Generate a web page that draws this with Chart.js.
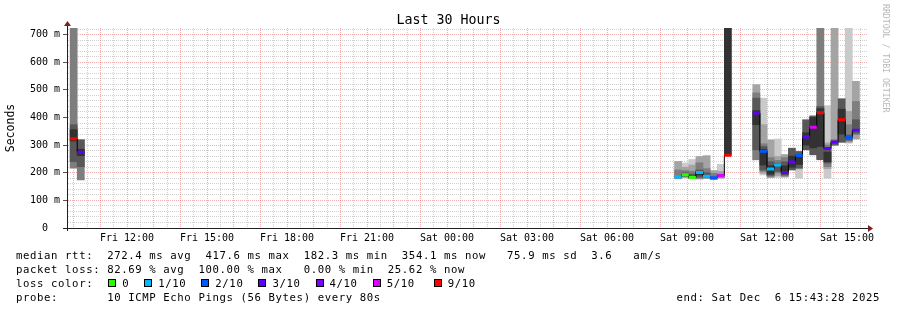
<!DOCTYPE html>
<html><head><meta charset="utf-8">
<script src="https://cdn.jsdelivr.net/npm/chart.js@4.4.1/dist/chart.umd.min.js"></script>
<style>
html,body{margin:0;padding:0;background:#fff;}
#wrap{position:relative;width:897px;height:310px;overflow:hidden;background:#fff;font-family:'DejaVu Sans Mono',monospace;color:#000;}
#c{position:absolute;left:0;top:0;}
#title{position:absolute;left:0;width:897px;top:12px;text-align:center;font-size:13.3px;line-height:16px;white-space:pre;}
#mark{position:absolute;left:881px;top:4px;writing-mode:vertical-rl;font-size:8.2px;line-height:10px;color:#b8b8b8;white-space:pre;}
.leg{position:absolute;left:16px;font-size:10.67px;letter-spacing:0.6px;line-height:14px;white-space:pre;}
.sw{display:inline-block;width:6px;height:6px;border:1px solid #000;margin:0 6px 0 1px;vertical-align:baseline;}
#end{left:auto;right:17px;}
</style></head>
<body>
<div id="wrap">
<canvas id="c" width="897" height="310"></canvas>
<div id="title">Last 30 Hours</div>
<div id="mark">RRDTOOL / TOBI OETIKER</div>
<div class="leg" style="top:248.5px">median rtt:  272.4 ms avg  417.6 ms max  182.3 ms min  354.1 ms now   75.9 ms sd  3.6   am/s</div>
<div class="leg" style="top:262.8px">packet loss: 82.69 % avg  100.00 % max   0.00 % min  25.62 % now</div>
<div class="leg" id="losslegend" style="top:276.9px"></div>
<div class="leg" style="top:291.1px">probe:       10 ICMP Echo Pings (56 Bytes) every 80s</div>
<div class="leg" id="end" style="top:291.1px">end: Sat Dec  6 15:43:28 2025</div>
</div>
<script>
// ---- data (RTT values in milliseconds) ----
const axisStart = 'Fri 09:45';
const axisEnd = 'Sat 15:45';
const bucketMinutes = 16;
const xTickLabels = ['Fri 12:00','Fri 15:00','Fri 18:00','Fri 21:00','Sat 00:00','Sat 03:00','Sat 06:00','Sat 09:00','Sat 12:00','Sat 15:00'];
const bucketStarts = ['Fri 09:52','Fri 10:08','Sat 08:32','Sat 08:48','Sat 09:04','Sat 09:20','Sat 09:36','Sat 09:52','Sat 10:08','Sat 10:24',
  'Sat 11:28','Sat 11:44','Sat 12:00','Sat 12:16','Sat 12:32','Sat 12:48','Sat 13:04','Sat 13:20','Sat 13:36','Sat 13:52',
  'Sat 14:08','Sat 14:24','Sat 14:40','Sat 14:56','Sat 15:12'];
// smoke bands, outermost (lightest) to innermost (darkest): [low, high]
const smoke1 = [null,null,null,[180,235],[177,248],null,null,null,[178,230],null,
  null,[192,470],null,[183,322],null,null,[180,277],null,null,null,
  [180,443],null,null,[307,740],null];
const smoke2 = [null,null,[178,241],[183,220],[179,228],[177,259],[179,262],[175,208],[181,205],null,
  [247,519],[198,374],[182,319],[190,259],[184,266],null,null,null,null,null,
  [215,308],[298,740],null,[310,422],[322,531]];
const smoke3 = [[217,740],[174,319],[180,210],[186,208],[180,205],[180,236],[181,215],[177,198],[183,195],null,
  [247,489],[205,305],[186,255],[200,245],[188,255],null,null,null,null,[250,740],
  [222,300],[300,320],null,[315,374],[338,458]];
const smoke4 = [[240,374],[222,319],null,[188,200],[181,195],[184,210],[183,200],null,null,null,
  [283,470],[210,295],[190,240],[205,235],[192,240],[210,289],[216,277],[283,392],[265,406],[247,440],
  [235,290],[302,315],[310,468],[318,337],[343,392]];
const smoke5 = [[315,356],[262,285],null,null,null,[192,205],null,null,null,[263,740],
  [374,425],[228,285],[195,225],null,[196,225],[220,260],[230,262],[300,345],[290,400],[295,432],
  [240,275],null,[340,430],null,null];
const medianRtt = [323,274,185,193,183,201,187,182.3,190,263,
  416,278,214,228,201,239,262,329,365,417.6,
  288,311,392,328,354.1];
const lossTenths = [9,3,1,0,0,1,1,2,5,9,
  3,2,1,1,3,3,2,3,5,9,
  3,3,9,2,3];
const lossLevels = [0,1,2,3,4,5,9];
const lossLabels = ['0','1/10','2/10','3/10','4/10','5/10','9/10'];

// ---- styles ----
const lossColors = {0:'#26ff00',1:'#00b8ff',2:'#0059ff',3:'#5e00ff',4:'#7e00ff',5:'#dd00ff',9:'#ff0000'};
const shades = ['#cacaca','#a4a4a4','#7e7e7e','#585858','#323232'];
const MAJOR = 'rgba(222,79,79,0.45)';
const MINOR = 'rgba(143,143,143,0.42)';
const FONT = 'DejaVu Sans Mono';

// ---- legend html ----
(function(){
  const el = document.getElementById('losslegend');
  let html = 'loss color:  ';
  lossLevels.forEach((lv, i) => {
    const extra = i === lossLevels.length - 1 ? 'margin-left:5px;' : '';
    html += '<span class="sw" style="' + extra + 'background:' + lossColors[lv] + '"></span>' + lossLabels[i] + (i < lossLevels.length - 1 ? '  ' : '');
  });
  el.innerHTML = html;
})();

const parseTime = s => { const [d, hm] = s.split(' '); const [h, m] = hm.split(':').map(Number); return (d === 'Sat' ? 24 : 0) + h + m / 60; };
const starts = bucketStarts.map(parseTime);
const bw = bucketMinutes / 60;
const tickLabelMap = {};
xTickLabels.forEach(l => { tickLabelMap[parseTime(l).toFixed(2)] = l; });

const datasets = [];
[smoke1, smoke2, smoke3, smoke4, smoke5].forEach((layer, li) => {
  datasets.push({
    type: 'bar', label: 'smoke' + (li + 1),
    data: layer.map((r, i) => r ? {x: starts[i] + bw / 2, y: r} : null).filter(Boolean),
    backgroundColor: shades[li], borderWidth: 0, grouped: false,
    barPercentage: 1, categoryPercentage: 1, order: 10 - li, clip: 0
  });
});
// black median connector
const medLine = [];
starts.forEach((s, i) => {
  if (i > 0 && s - starts[i - 1] > bw + 1e-6) medLine.push({x: s, y: null});
  medLine.push({x: s + bw / 2, y: medianRtt[i]});
});
datasets.push({type: 'line', label: 'median', data: medLine, stepped: 'middle', borderColor: '#000', borderWidth: 1,
  pointRadius: 0, fill: false, spanGaps: false, order: 2, clip: 0});
// loss-coloured median marks
lossLevels.forEach(lv => {
  const pts = [];
  starts.forEach((s, i) => {
    if (lossTenths[i] === lv) { pts.push({x: s, y: medianRtt[i]}, {x: s + bw, y: medianRtt[i]}, {x: s + bw, y: null}); }
  });
  if (pts.length) datasets.push({type: 'line', label: 'loss ' + lv, data: pts, borderColor: lossColors[lv], borderWidth: 3,
    borderCapStyle: 'butt', pointRadius: 0, fill: false, spanGaps: false, order: 1, clip: 0});
});

const axisDeco = { id: 'axisDeco', afterDraw(chart) {
  const {ctx, chartArea: a} = chart;
  ctx.save();
  ctx.strokeStyle = '#1f1f1f'; ctx.lineWidth = 1;
  ctx.beginPath();
  ctx.moveTo(a.left - 4, a.bottom + 0.5); ctx.lineTo(a.right + 2, a.bottom + 0.5);
  ctx.moveTo(a.left + 0.5, a.bottom + 3); ctx.lineTo(a.left + 0.5, a.top - 3);
  ctx.stroke();
  ctx.fillStyle = '#801f1f';
  ctx.beginPath(); ctx.moveTo(a.left - 3, a.top - 2); ctx.lineTo(a.left + 4, a.top - 2); ctx.lineTo(a.left + 0.5, a.top - 7); ctx.closePath(); ctx.fill();
  ctx.beginPath(); ctx.moveTo(a.right + 1, a.bottom - 3); ctx.lineTo(a.right + 1, a.bottom + 4); ctx.lineTo(a.right + 6, a.bottom + 0.5); ctx.closePath(); ctx.fill();
  ctx.restore();
}};

Chart.defaults.font.family = FONT;
new Chart(document.getElementById('c'), {
  type: 'bar',
  data: { datasets },
  options: {
    responsive: false, animation: false, devicePixelRatio: 1,
    layout: { padding: { left: 0, right: 30, top: 28, bottom: 0 } },
    plugins: { legend: { display: false }, tooltip: { enabled: false }, title: { display: false } },
    scales: {
      x: {
        type: 'linear', min: parseTime(axisStart), max: parseTime(axisEnd), offset: false,
        afterBuildTicks: s => {
          const t = [];
          for (let v = Math.ceil(s.min * 2) / 2; v < s.max - 1e-6; v += 0.5) t.push({value: v});
          s.ticks = t;
        },
        grid: { offset: false, drawTicks: false, lineWidth: 1,
          color: c => (Math.abs(c.tick.value - Math.round(c.tick.value)) < 1e-6 ? MAJOR : MINOR) },
        border: { display: true, color: '#000', width: 1, z: 2, dash: [1, 1] },
        ticks: { autoSkip: false, maxRotation: 0, minRotation: 0, padding: 4,
          color: '#000', font: { family: FONT, size: 10 },
          callback: v => tickLabelMap[Number(v).toFixed(2)] || '' },
        afterFit: s => { s.height = 82; }
      },
      y: {
        type: 'linear', min: 0, max: 724,
        grid: { drawTicks: true, tickLength: 4, lineWidth: 1,
          color: c => (c.tick.value % 100 === 0 ? MAJOR : MINOR),
          tickColor: c => (c.tick.value % 100 === 0 ? '#555' : 'rgba(0,0,0,0)') },
        border: { display: true, color: '#000', width: 1, z: 2, dash: [1, 1] },
        ticks: { stepSize: 20, includeBounds: false, autoSkip: false, padding: 3, color: '#000',
          font: { family: FONT, size: 10 },
          callback: v => (v % 100 !== 0 ? '' : (v === 0 ? '0  ' : v + ' m')) },
        title: { display: true, text: 'Seconds', color: '#000', font: { family: FONT, size: 11.5 }, padding: { top: 4, bottom: 4 } },
        afterFit: s => { s.width = 67; }
      }
    }
  },
  plugins: [axisDeco]
});
</script>
</body></html>
